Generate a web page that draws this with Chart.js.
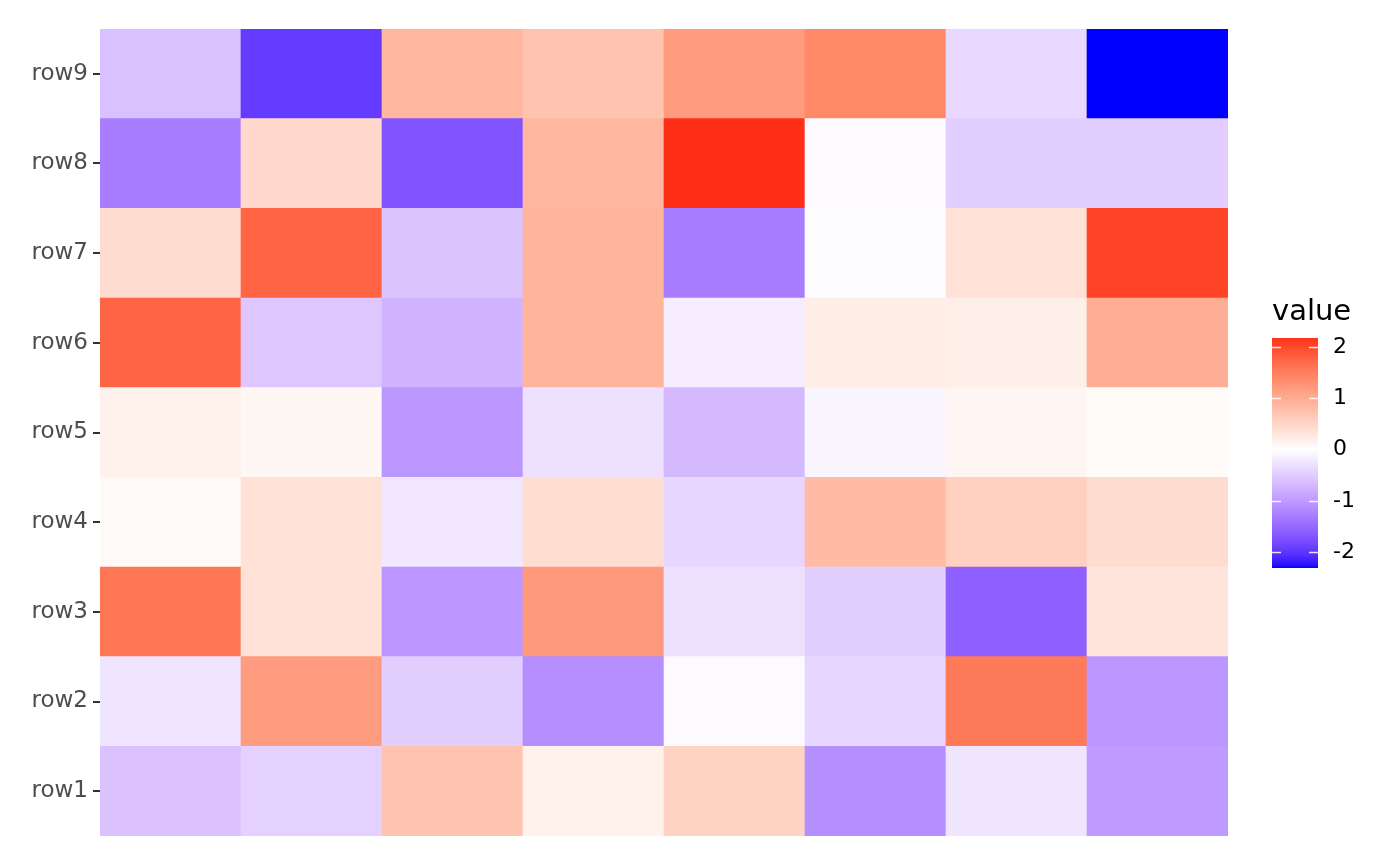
<!DOCTYPE html>
<html lang="en">
<head>
  <meta charset="UTF-8" />
  <title>Heatmap</title>
  <script src="https://cdn.jsdelivr.net/npm/chart.js"></script>
  <style>
    body { margin: 0; background: #ffffff; }
    canvas { display: block; }
  </style>
</head>
<body>
<canvas id="heatmap" width="1400" height="865"></canvas>
<script>
  // rows bottom -> top, columns left -> right
  const rowLabels = ['row1', 'row2', 'row3', 'row4', 'row5', 'row6', 'row7', 'row8', 'row9'];
  const colLabels = ['col1', 'col2', 'col3', 'col4', 'col5', 'col6', 'col7', 'col8'];

  const row1 = [-0.60, -0.45, 0.72, 0.17, 0.53, -1.13, -0.26, -1.00];
  const row2 = [-0.26, 1.18, -0.48, -1.13, -0.06, -0.40, 1.55, -1.05];
  const row3 = [1.60, 0.36, -1.05, 1.22, -0.30, -0.47, -1.60, 0.32];
  const row4 = [0.06, 0.37, -0.24, 0.40, -0.40, 0.82, 0.58, 0.42];
  const row5 = [0.16, 0.10, -1.05, -0.30, -0.70, -0.10, 0.11, 0.05];
  const row6 = [1.76, -0.55, -0.75, 0.90, -0.18, 0.22, 0.20, 0.97];
  const row7 = [0.42, 1.76, -0.58, 0.90, -1.30, -0.03, 0.36, 2.05];
  const row8 = [-1.30, 0.47, -1.72, 0.87, 2.18, -0.05, -0.48, -0.48];
  const row9 = [-0.62, -1.95, 0.87, 0.72, 1.18, 1.40, -0.38, -2.32];
  const rowValues = [row1, row2, row3, row4, row5, row6, row7, row8, row9];

  const legendTitle = 'value';
  const legendTicks = [-2, -1, 0, 1, 2];

  // --- diverging blue / white / red gradient, interpolated in Lab like ggplot ---
  const WX = 0.95047, WY = 1.0, WZ = 1.08883;
  const toLin = c => { c /= 255; return c <= 0.04045 ? c / 12.92 : Math.pow((c + 0.055) / 1.055, 2.4); };
  const toSrgb = c => {
    c = Math.min(1, Math.max(0, c));
    const v = c <= 0.0031308 ? 12.92 * c : 1.055 * Math.pow(c, 1 / 2.4) - 0.055;
    return Math.round(v * 255);
  };

  function rgbToLab([r, g, b]) {
    const R = toLin(r), G = toLin(g), B = toLin(b);
    const X = (0.4124 * R + 0.3576 * G + 0.1805 * B) / WX;
    const Y = (0.2126 * R + 0.7152 * G + 0.0722 * B) / WY;
    const Z = (0.0193 * R + 0.1192 * G + 0.9505 * B) / WZ;
    const f = t => t > 0.008856 ? Math.cbrt(t) : 7.787 * t + 16 / 116;
    const fx = f(X), fy = f(Y), fz = f(Z);
    return [116 * fy - 16, 500 * (fx - fy), 200 * (fy - fz)];
  }

  function labToRgb([L, a, b]) {
    const fy = (L + 16) / 116, fx = fy + a / 500, fz = fy - b / 200;
    const inv = t => t * t * t > 0.008856 ? t * t * t : (t - 16 / 116) / 7.787;
    const X = inv(fx) * WX, Y = inv(fy) * WY, Z = inv(fz) * WZ;
    const R = 3.2406 * X - 1.5372 * Y - 0.4986 * Z;
    const G = -0.9689 * X + 1.8758 * Y + 0.0415 * Z;
    const B = 0.0557 * X - 0.2040 * Y + 1.0570 * Z;
    return `rgb(${toSrgb(R)}, ${toSrgb(G)}, ${toSrgb(B)})`;
  }

  const lowLab = rgbToLab([0, 0, 255]);
  const midLab = rgbToLab([255, 255, 255]);
  const highLab = rgbToLab([255, 0, 0]);

  const allValues = rowValues.flat();
  const vMin = Math.min(...allValues);
  const vMax = Math.max(...allValues);
  const maxAbs = Math.max(Math.abs(vMin), Math.abs(vMax));

  const mix = (a, b, t) => a.map((x, i) => x + (b[i] - x) * t);

  const fillColor = v => {
    const p = v / maxAbs / 2 + 0.5;
    if (p < 0.5) return labToRgb(mix(lowLab, midLab, p / 0.5));
    return labToRgb(mix(midLab, highLab, (p - 0.5) / 0.5));
  };

  // --- colourbar legend drawn next to the panel ---
  const colorbarPlugin = {
    id: 'colorbar',
    afterDraw(chart) {
      const ctx = chart.ctx;
      const x = chart.chartArea.right + 44;
      const w = 46, top = 338, bottom = 568;
      const span = vMax - vMin;
      const yOf = v => bottom - (v - vMin) / span * (bottom - top);

      ctx.save();
      for (let y = top; y < bottom; y++) {
        const v = vMin + (bottom - y - 0.5) / (bottom - top) * span;
        ctx.fillStyle = fillColor(v);
        ctx.fillRect(x, y, w, 1);
      }

      ctx.strokeStyle = 'rgba(255,255,255,0.85)';
      ctx.lineWidth = 1.5;
      ctx.fillStyle = '#000000';
      ctx.font = '22px "DejaVu Sans"';
      ctx.textAlign = 'left';
      ctx.textBaseline = 'middle';
      legendTicks.forEach(t => {
        const y = Math.round(yOf(t)) + 0.5;
        ctx.beginPath();
        ctx.moveTo(x, y); ctx.lineTo(x + 9, y);
        ctx.moveTo(x + w - 9, y); ctx.lineTo(x + w, y);
        ctx.stroke();
        ctx.fillText(String(t), x + 61, y);
      });

      ctx.font = '29px "DejaVu Sans"';
      ctx.textBaseline = 'alphabetic';
      ctx.fillText(legendTitle, x, 320);
      ctx.restore();
    }
  };

  new Chart(document.getElementById('heatmap'), {
    type: 'bar',
    data: {
      labels: colLabels,
      datasets: rowValues.map((vals, i) => ({
        label: rowLabels[i],
        data: vals.map(() => 1),
        backgroundColor: vals.map(fillColor),
        borderWidth: 0,
        barPercentage: 1,
        categoryPercentage: 1
      }))
    },
    options: {
      responsive: false,
      animation: false,
      layout: { padding: { top: 29, right: 172, bottom: 29, left: 0 } },
      plugins: {
        legend: { display: false },
        tooltip: { enabled: false }
      },
      scales: {
        x: { stacked: true, display: false },
        y: {
          stacked: true,
          min: 0,
          max: rowLabels.length,
          afterBuildTicks: axis => { axis.ticks = rowLabels.map((_, i) => ({ value: i + 0.5 })); },
          afterFit: axis => { axis.width = 100; },
          ticks: {
            autoSkip: false,
            padding: 5,
            color: '#4d4d4d',
            font: { family: 'DejaVu Sans', size: 23 },
            callback: v => rowLabels[Math.round(v - 0.5)]
          },
          grid: {
            drawOnChartArea: false,
            drawTicks: true,
            tickLength: 7,
            color: '#333333',
            lineWidth: 2
          },
          border: { display: false }
        }
      }
    },
    plugins: [colorbarPlugin]
  });
</script>
</body>
</html>
